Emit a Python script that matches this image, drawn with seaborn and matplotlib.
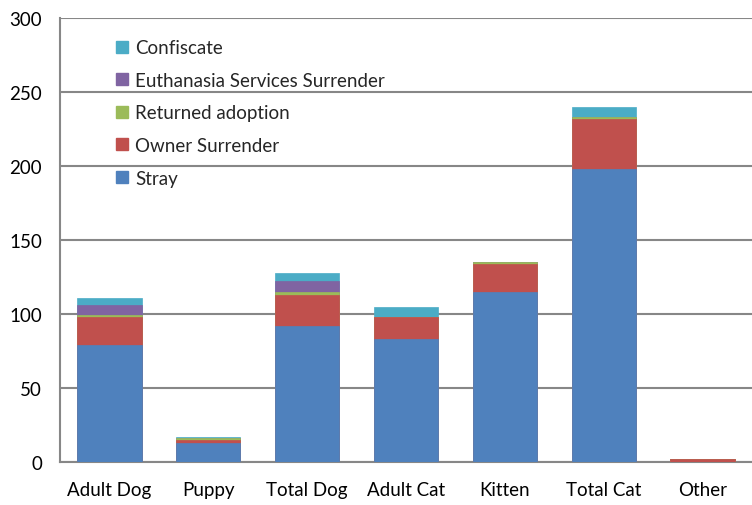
import matplotlib
matplotlib.use("Agg")
import numpy as np
import pandas as pd
import matplotlib.pyplot as plt
import seaborn as sns
from matplotlib.patches import Patch

# Datos
categorias = ['Adult Dog', 'Puppy', 'Total Dog', 'Adult Cat', 'Kitten', 'Total Cat', 'Other']
stray = [79, 13, 92, 83, 115, 198, 0]
owner_surrender = [19, 2, 21, 15, 19, 34, 2]
returned_adoption = [1, 1, 2, 0, 1, 1, 0]
euthanasia_surrender = [7, 0, 7, 0, 0, 0, 0]
confiscate = [5, 1, 6, 7, 0, 7, 0]

series = ['Stray', 'Owner Surrender', 'Returned adoption',
          'Euthanasia Services Surrender', 'Confiscate']
colores = ['#4F81BD', '#C0504D', '#9BBB59', '#8064A2', '#4BACC6']

sns.set_theme(style="white")
plt.rcParams['font.family'] = ['Lato', 'DejaVu Sans']

df = pd.DataFrame({
    'Categoria': categorias,
    'Stray': stray,
    'Owner Surrender': owner_surrender,
    'Returned adoption': returned_adoption,
    'Euthanasia Services Surrender': euthanasia_surrender,
    'Confiscate': confiscate,
})
# Acumulados para apilar (se dibuja de mayor a menor)
acum = df[series].cumsum(axis=1)

fig = plt.figure(figsize=(7.52, 5.06), dpi=100)
ax = fig.add_axes([0.0798, 0.085, 0.9202, 0.8775])

for s, c in reversed(list(zip(series, colores))):
    sns.barplot(x=df['Categoria'], y=acum[s], color=c, width=0.65,
                saturation=1, ax=ax, edgecolor=c, linewidth=0.5, zorder=3)

ax.set_ylim(0, 300)
ax.set_xlim(-0.5, 6.5)
ax.set_yticks(range(0, 301, 50))
ax.yaxis.grid(True, color='#878787', linewidth=1.5, zorder=0)
ax.set_axisbelow(True)
ax.set_xlabel('')
ax.set_ylabel('')
for side in ['top', 'right']:
    ax.spines[side].set_visible(False)
for side in ['left', 'bottom']:
    ax.spines[side].set_color('#878787')
    ax.spines[side].set_linewidth(1.5)
ax.spines['bottom'].set_zorder(2)
ax.tick_params(axis='both', labelsize=13.5, length=0, colors='black')
ax.tick_params(axis='y', pad=13)
ax.tick_params(axis='x', pad=14)

handles = [Patch(facecolor=c, edgecolor=c) for c in colores]
leg = ax.legend(handles[::-1], series[::-1], loc='upper left',
                bbox_to_anchor=(0.057, 0.99), frameon=False, fontsize=13.5,
                labelspacing=0.83, handlelength=0.6, handleheight=0.6,
                handletextpad=0.4)

fig.savefig('out.png', dpi=100)
